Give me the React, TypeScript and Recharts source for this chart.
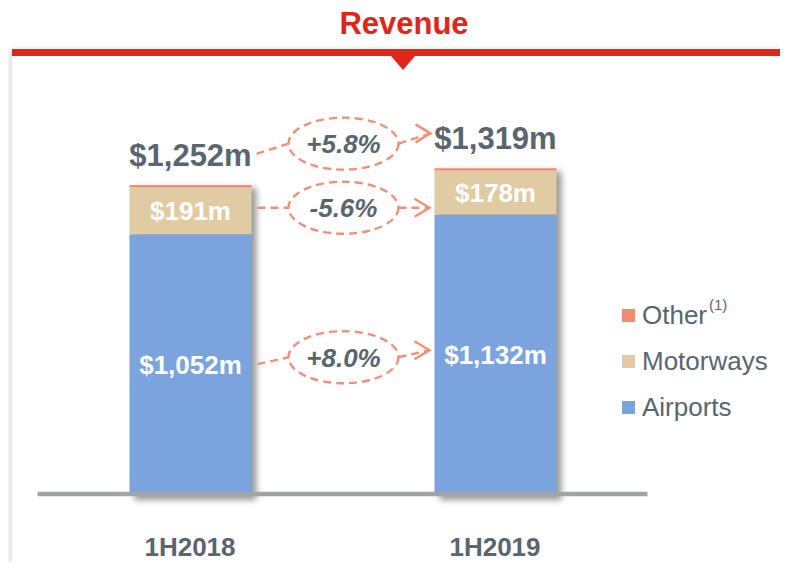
import React from 'react';
import { BarChart, Bar, XAxis, YAxis, LabelList } from 'recharts';

const periods = ['1H2018', '1H2019'];
const airports = [1052, 1132];
const motorways = [191, 178];
const other = [9, 9];
const totals = [1252, 1319];
const airportsLabels = ['$1,052m', '$1,132m'];
const motorwaysLabels = ['$191m', '$178m'];
const totalLabels = ['$1,252m', '$1,319m'];
const changeTotal = '+5.8%';
const changeMotorways = '-5.6%';
const changeAirports = '+8.0%';
const legendNames = ['Other', 'Motorways', 'Airports'];

const COLORS = {
    Other: '#F08C74',
    Motorways: '#E0CBA3',
    Airports: '#7BA3DE',
};
const RED = '#E1251B';
const GREY_TEXT = '#59656F';
const ARROW = '#F09078';
const FONT = '"Liberation Sans", Arial, sans-serif';

const W = 788;
const H = 570;
const MARGIN = { top: 99, right: 140.5, bottom: 0, left: 37.5 };
const XAXIS_H = 76;
const Y_MAX = 1600;
const PLOT_H = H - MARGIN.top - MARGIN.bottom - XAXIS_H;
const PPU = PLOT_H / Y_MAX;
const BAND = (W - MARGIN.left - MARGIN.right) / periods.length;

const data = periods.map((p, i) => ({
    period: p,
    airports: airports[i],
    motorways: motorways[i],
    other: other[i],
    total: totals[i],
    airportsLabel: airportsLabels[i],
    motorwaysLabel: motorwaysLabels[i],
    totalLabel: totalLabels[i],
}));

const ChangeArrow = ({ x1, y1, x2, y2, label }: any) => {
    const cx = (x1 + x2) / 2;
    const cy = (y1 + y2) / 2;
    const rx = 55;
    const ry = 26;
    const line = { stroke: ARROW, strokeWidth: 2.4, strokeDasharray: '8 5', fill: 'none' };
    return (
        <g>
            <line x1={x1} y1={y1} x2={cx - rx} y2={cy} {...line} />
            <ellipse cx={cx} cy={cy} rx={rx} ry={ry} {...line} />
            <line x1={cx + rx} y1={cy} x2={x2} y2={y2} {...line} />
            <polyline
                points={`${x2 - 15},${y2 - 9} ${x2},${y2} ${x2 - 15},${y2 + 9}`}
                fill="none"
                stroke={ARROW}
                strokeWidth={2.4}
            />
            <text
                x={cx}
                y={cy}
                dy="0.36em"
                textAnchor="middle"
                fontFamily={FONT}
                fontSize={26}
                fontWeight="bold"
                fontStyle="italic"
                fill={GREY_TEXT}
            >
                {label}
            </text>
        </g>
    );
};

const AirportsShape = (props: any) => {
    const { x, y, width, height, payload, fill, index } = props;
    const bottom = y + height;
    const totalH = (height / payload.airports) * payload.total;
    const id = `barShadow${index}`;
    return (
        <g>
            <defs>
                <filter id={id} x="-20%" y="-20%" width="140%" height="140%">
                    <feGaussianBlur stdDeviation={3} />
                </filter>
            </defs>
            <rect
                x={x + 5}
                y={bottom - totalH + 3}
                width={width}
                height={totalH + 3}
                fill="#000"
                opacity={0.4}
                filter={`url(#${id})`}
            />
            <rect x={x} y={y} width={width} height={height} fill={fill} />
        </g>
    );
};

const AirportsLabel = (props: any) => {
    const { x, y, width, height, value, index } = props;
    const bottom = y + height;
    return (
        <g>
            <text
                x={x + width / 2}
                y={y + height / 2}
                dy="0.36em"
                textAnchor="middle"
                fontFamily={FONT}
                fontSize={26}
                fontWeight="bold"
                fill="#fff"
            >
                {value}
            </text>
            {index === 0 && (
                <ChangeArrow
                    x1={x + width + 6}
                    y1={y + height / 2}
                    x2={x + BAND - 5}
                    y2={bottom - (airports[1] * PPU) / 2 - 4}
                    label={changeAirports}
                />
            )}
        </g>
    );
};

const MotorwaysLabel = (props: any) => {
    const { x, y, width, height, value, index } = props;
    return (
        <g>
            <text
                x={x + width / 2}
                y={y + height / 2}
                dy="0.36em"
                textAnchor="middle"
                fontFamily={FONT}
                fontSize={26}
                fontWeight="bold"
                fill="#fff"
            >
                {value}
            </text>
            {index === 0 && (
                <ChangeArrow
                    x1={x + width + 6}
                    y1={y + height / 2 - 3}
                    x2={x + BAND - 5}
                    y2={y + height / 2 - 3}
                    label={changeMotorways}
                />
            )}
        </g>
    );
};

const TotalLabel = (props: any) => {
    const { x, y, width, value, index } = props;
    const top2 = y + (totals[0] - totals[1]) * PPU;
    return (
        <g>
            <text
                x={x + width / 2}
                y={y - 19}
                textAnchor="middle"
                fontFamily={FONT}
                fontSize={31}
                fontWeight="bold"
                fill={GREY_TEXT}
            >
                {value}
            </text>
            {index === 0 && (
                <ChangeArrow
                    x1={x + width + 5}
                    y1={y - 31}
                    x2={x + BAND - 4}
                    y2={top2 - 35}
                    label={changeTotal}
                />
            )}
        </g>
    );
};

const PeriodTick = (props: any) => {
    const { x, y, payload } = props;
    return (
        <text
            x={x}
            y={y + 60}
            textAnchor="middle"
            fontFamily={FONT}
            fontSize={26}
            fontWeight="bold"
            fill={GREY_TEXT}
        >
            {payload.value}
        </text>
    );
};

export default function App() {
    return (
        <div style={{ position: 'relative', width: W, height: H, margin: -8, overflow: 'hidden', background: '#fff', fontFamily: FONT }}>
            <div
                style={{
                    position: 'absolute',
                    left: 12,
                    top: 49,
                    width: 800,
                    height: 560,
                    background: '#fff',
                    boxShadow: '-3px 0 6px rgba(0,0,0,0.13)',
                }}
            />
            <div style={{ position: 'absolute', left: 12, top: 49, width: 800, height: 7, background: RED }} />
            <div
                style={{
                    position: 'absolute',
                    left: 391,
                    top: 56,
                    width: 0,
                    height: 0,
                    borderLeft: '12px solid transparent',
                    borderRight: '12px solid transparent',
                    borderTop: `14px solid ${RED}`,
                }}
            />
            <div
                style={{
                    position: 'absolute',
                    left: 0,
                    width: W,
                    top: 6,
                    textAlign: 'center',
                    paddingLeft: 20,
                    boxSizing: 'border-box',
                    fontSize: 31,
                    fontWeight: 'bold',
                    color: RED,
                }}
            >
                Revenue
            </div>

            <div style={{ position: 'absolute', left: 0, top: 0 }}>
                <BarChart width={W} height={H} data={data} margin={MARGIN} barSize={122}>
                    <YAxis hide domain={[0, Y_MAX]} />
                    <Bar dataKey="airports" stackId="a" fill={COLORS.Airports} shape={<AirportsShape />} isAnimationActive={false}>
                        <LabelList dataKey="airportsLabel" content={<AirportsLabel />} />
                    </Bar>
                    <Bar dataKey="motorways" stackId="a" fill={COLORS.Motorways} isAnimationActive={false}>
                        <LabelList dataKey="motorwaysLabel" content={<MotorwaysLabel />} />
                    </Bar>
                    <Bar dataKey="other" stackId="a" fill={COLORS.Other} isAnimationActive={false}>
                        <LabelList dataKey="totalLabel" content={<TotalLabel />} />
                    </Bar>
                    <XAxis
                        dataKey="period"
                        height={XAXIS_H}
                        tickLine={false}
                        tickSize={0}
                        axisLine={{ stroke: '#A0A3A7', strokeWidth: 4.5 }}
                        tick={<PeriodTick />}
                    />
                </BarChart>
            </div>

            <div style={{ position: 'absolute', left: 622, top: 292 }}>
                {legendNames.map((name) => (
                    <div key={name} style={{ display: 'flex', alignItems: 'center', height: 46 }}>
                        <div style={{ width: 13, height: 13, background: (COLORS as any)[name], marginRight: 7 }} />
                        <span style={{ fontSize: 26, color: GREY_TEXT, position: 'relative' }}>
                            {name}
                            {name === 'Other' && (
                                <sup style={{ fontSize: 15, position: 'relative', top: -4, marginLeft: 2 }}>(1)</sup>
                            )}
                        </span>
                    </div>
                ))}
            </div>
        </div>
    );
}
